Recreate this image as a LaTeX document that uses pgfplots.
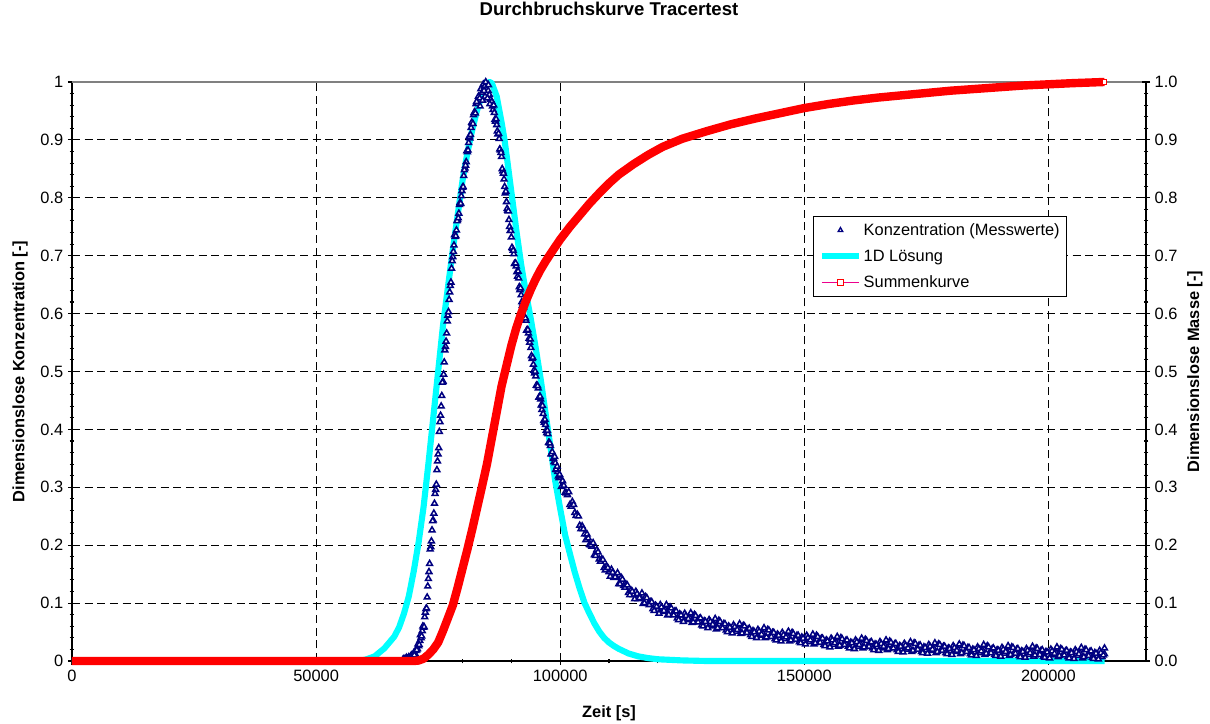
\documentclass[border=0pt]{standalone}
\usepackage{fontspec}
\setmainfont{Liberation Sans}
\usepackage{pgfplots}
\pgfplotsset{compat=1.18}

\definecolor{messblau}{RGB}{0,0,128}
\definecolor{loesung}{RGB}{0,255,255}
\definecolor{summe}{RGB}{255,0,0}

\newcommand{\tickfont}{\fontsize{12.3}{14}\selectfont}
\newcommand{\labelfont}{\bfseries\fontsize{12.3}{14}\selectfont}

\pgfplotsset{
  tracer/.style={
    at={(0,0)}, anchor=south west,
    scale only axis, width=805.5pt, height=434.25pt,
    xmin=0, xmax=220000, ymin=0, ymax=1,
    clip=false,
    tick align=center, major tick length=6pt, minor tick length=3.5pt,
    tick style={black, line width=0.8pt},
    axis line style={black, line width=1pt, -},
    ytick={0,0.1,0.2,0.3,0.4,0.5,0.6,0.7,0.8,0.9,1},
    minor y tick num=4,
    tick label style={font=\tickfont},
    /pgf/number format/assume math mode=true,
    legend image code/.code={\draw[mark repeat=2,mark phase=2,##1] plot coordinates {(0cm,0cm) (0.49cm,0cm) (0.98cm,0cm)};},
  },
  messung/.style={only marks, mark=triangle*, mark size=2.5pt,
    mark options={draw=messblau, fill=white, line width=1.15pt}},
}

\begin{document}
\begin{tikzpicture}

% left axis: measured concentration and 1D solution
\begin{axis}[
  tracer,
  axis x line*=bottom, axis y line*=left,
  xtick={0,50000,100000,150000,200000},
  minor x tick num=4,
  scaled x ticks=false,
  /pgf/number format/.cd, fixed, 1000 sep={}, /pgfplots/.cd,
  grid=major,
  major grid style={black, line width=0.6pt, dash pattern=on 6pt off 3.5pt},
  title={Durchbruchskurve Tracertest},
  title style={at={(axis description cs:0.5,1.1123)}, anchor=center, font=\bfseries\fontsize{13.9}{16}\selectfont},
  xlabel={Zeit [s]},
  xlabel style={at={(axis description cs:0.5,-0.0898)}, anchor=center, font=\labelfont},
  ylabel={Dimensionslose Konzentration [-]},
  ylabel style={at={(axis description cs:-0.0484,0.5)}, anchor=center, font=\labelfont},
]
\draw[gray, line width=1pt] (rel axis cs:0,1) -- (rel axis cs:1,1);

% 1D solution
\addplot[loesung, line width=4.6pt, line join=round] coordinates {
(0,0) (58000,0) (60000,0.002) (62000,0.008) (64000,0.022) (65000,0.032)
(66000,0.042) (67000,0.058) (68000,0.082) (69000,0.112) (70000,0.155)
(71000,0.205) (72000,0.265) (73000,0.34) (74000,0.42) (75000,0.50)
(76000,0.58) (77000,0.645) (78000,0.71) (79000,0.77) (80000,0.83)
(81000,0.878) (82000,0.918) (83000,0.952) (84000,0.978) (85000,0.995)
(85500,1.0) (86000,0.998) (87000,0.975) (88000,0.93) (88600,0.9)
(89000,0.875) (90000,0.81) (91000,0.745) (92000,0.685) (93000,0.635)
(94000,0.59) (95000,0.54) (96000,0.487) (97000,0.428) (98000,0.37)
(99000,0.31) (100000,0.263) (101000,0.218) (102000,0.185) (103000,0.153)
(104000,0.125) (105000,0.10) (106000,0.082) (107000,0.065) (108000,0.051)
(109000,0.040) (110000,0.032) (111000,0.026) (112000,0.021) (114000,0.013)
(116000,0.008) (118000,0.005) (120000,0.003) (125000,0.001) (130000,0)
(211500,0)
};

% measured concentration, first sampling
\addplot[messung] coordinates {
(67750,0.002) (68000,0.004) (68250,0.003) (68500,0.006) (68750,0.004)
(69000,0.007) (69250,0.005) (69500,0.010) (69750,0.008) (70000,0.014)
(70250,0.013) (70500,0.019) (70750,0.021) (71000,0.026) (71250,0.035)
(71500,0.040) (71750,0.052) (72000,0.058) (72250,0.076) (72500,0.090)
(72750,0.110) (73000,0.142) (73250,0.168) (73500,0.197) (73750,0.226)
(74000,0.243) (74250,0.272) (74500,0.296) (74750,0.330) (75000,0.357)
(75250,0.396) (75500,0.424) (75750,0.458) (76000,0.483) (76250,0.516)
(76500,0.543) (76750,0.566) (77000,0.597) (77250,0.624) (77500,0.648)
(77750,0.678) (78000,0.698) (78250,0.718) (78500,0.733) (78750,0.744)
(79000,0.762) (79250,0.773) (79500,0.792) (79750,0.803) (80000,0.818)
(80250,0.838) (80500,0.851) (80750,0.862) (81000,0.879) (81250,0.895)
(81500,0.903) (81750,0.921) (82000,0.928) (82250,0.943) (82500,0.948)
(82750,0.962) (83000,0.963) (83250,0.975) (83500,0.972) (83750,0.988)
(84000,0.982) (84250,0.996) (84500,0.992) (84750,1.000) (85000,0.987)
(85250,0.985) (85500,0.978) (85750,0.970) (86000,0.966) (86250,0.952)
(86500,0.947) (86750,0.932) (87000,0.926) (87250,0.910) (87500,0.902)
(87750,0.882) (88000,0.871) (88250,0.846) (88500,0.832) (88750,0.808)
(89000,0.793) (89250,0.778) (89500,0.762) (89750,0.743) (90000,0.732)
(90250,0.712) (90500,0.703) (90750,0.686) (91000,0.682) (91250,0.664)
(91500,0.661) (91750,0.641) (92000,0.632) (92250,0.614) (92500,0.611)
(92750,0.594) (93000,0.588) (93250,0.571) (93500,0.566) (93750,0.550)
(94000,0.541) (94250,0.522) (94500,0.512) (94750,0.497) (95000,0.492)
(95250,0.476) (95500,0.471) (95750,0.456) (96000,0.452) (96250,0.434)
(96500,0.427) (96750,0.412) (97000,0.408) (97250,0.394) (97500,0.392)
(97750,0.377) (98000,0.372) (98250,0.359) (98500,0.357) (98750,0.344)
(99000,0.342) (99250,0.330) (99500,0.327) (99750,0.316) (100000,0.317)
(83600,0.958) (84100,0.968) (84600,0.975) (85100,0.972) (85600,0.962)
(84400,0.985) (85300,0.995)
(100500,0.311) (101000,0.291) (101500,0.287) (102000,0.270) (102500,0.275)
(103000,0.256) (103500,0.253) (104000,0.234) (104500,0.233) (105000,0.219)
(105500,0.219) (106000,0.201) (106500,0.198) (107000,0.183) (107500,0.192)
(108000,0.176) (108500,0.176) (109000,0.161) (109500,0.164) (110000,0.154)
(110500,0.158) (111000,0.144) (111500,0.145) (112000,0.133) (112500,0.144)
(113000,0.130) (113500,0.132) (114000,0.118) (114500,0.122) (115000,0.114)
(115500,0.120) (116000,0.107) (116500,0.109) (117000,0.099) (117500,0.111)
(118000,0.099) (118500,0.102) (119000,0.090) (119500,0.096) (120000,0.089)
(120500,0.097) (121000,0.085) (121500,0.089) (122000,0.079) (122500,0.093)
(123000,0.081) (123500,0.086) (124000,0.074) (124500,0.081) (125000,0.074)
(125500,0.082) (126000,0.071) (126500,0.075) (127000,0.066) (127500,0.080)
(128000,0.068) (128500,0.073) (129000,0.062) (129500,0.069) (130000,0.063)
(130500,0.071) (131000,0.060) (131500,0.064) (132000,0.055) (132500,0.070)
(133000,0.059) (133500,0.064) (134000,0.053) (134500,0.060) (135000,0.054)
(135500,0.062) (136000,0.051) (136500,0.056) (137000,0.047) (137500,0.061)
(138000,0.050) (138500,0.055) (139000,0.045) (139500,0.052) (140000,0.046)
(140500,0.054) (141000,0.044) (141500,0.048) (142000,0.040) (142500,0.054)
(143000,0.043) (143500,0.049) (144000,0.038) (144500,0.046) (145000,0.040)
(145500,0.049) (146000,0.038) (146500,0.043) (147000,0.034) (147500,0.049)
(148000,0.038) (148500,0.044) (149000,0.033) (149500,0.041) (150000,0.035)
(150500,0.044) (151000,0.033) (151500,0.038) (152000,0.029) (152500,0.044)
(153000,0.033) (153500,0.039) (154000,0.028) (154500,0.036) (155000,0.030)
(155500,0.039) (156000,0.028) (156500,0.033) (157000,0.025) (157500,0.040)
(158000,0.029) (158500,0.035) (159000,0.025) (159500,0.032) (160000,0.027)
(160500,0.036) (161000,0.025) (161500,0.030) (162000,0.022) (162500,0.037)
(163000,0.026) (163500,0.032) (164000,0.022) (164500,0.029) (165000,0.024)
(165500,0.033) (166000,0.022) (166500,0.027) (167000,0.019) (167500,0.034)
(168000,0.023) (168500,0.029) (169000,0.019) (169500,0.026) (170000,0.021)
(170500,0.030) (171000,0.020) (171500,0.024) (172000,0.016) (172500,0.031)
(173000,0.021) (173500,0.027) (174000,0.016) (174500,0.024) (175000,0.019)
(175500,0.028) (176000,0.018) (176500,0.022) (177000,0.014) (177500,0.029)
(178000,0.019) (178500,0.025) (179000,0.014) (179500,0.022) (180000,0.017)
(180500,0.026) (181000,0.016) (181500,0.020) (182000,0.012) (182500,0.027)
(183000,0.017) (183500,0.023) (184000,0.012) (184500,0.020) (185000,0.015)
(185500,0.024) (186000,0.014) (186500,0.019) (187000,0.011) (187500,0.026)
(188000,0.015) (188500,0.021) (189000,0.011) (189500,0.019) (190000,0.014)
(190500,0.023) (191000,0.013) (191500,0.017) (192000,0.009) (192500,0.024)
(193000,0.014) (193500,0.020) (194000,0.009) (194500,0.017) (195000,0.012)
(195500,0.021) (196000,0.011) (196500,0.016) (197000,0.008) (197500,0.022)
(198000,0.012) (198500,0.018) (199000,0.008) (199500,0.016) (200000,0.011)
(200500,0.020) (201000,0.010) (201500,0.015) (202000,0.007) (202500,0.021)
(203000,0.011) (203500,0.017) (204000,0.007) (204500,0.015) (205000,0.010)
(205500,0.019) (206000,0.009) (206500,0.014) (207000,0.005) (207500,0.020)
(208000,0.010) (208500,0.016) (209000,0.006) (209500,0.014) (210000,0.009)
(210500,0.018) (211000,0.007) (211500,0.012) (211500,0.022)
};

% measured concentration, intermediate samples
\addplot[messung] coordinates {
(70125,0.010) (70375,0.018) (70625,0.019) (70875,0.029) (71125,0.028)
(71375,0.045) (71625,0.043) (71875,0.060) (72125,0.059) (72375,0.084)
(72625,0.091) (72875,0.129) (73125,0.154) (73375,0.193) (73625,0.207)
(73875,0.242) (74125,0.255) (74375,0.289) (74625,0.305) (74875,0.345)
(75125,0.368) (75375,0.413) (75625,0.440) (75875,0.481) (76125,0.495)
(76375,0.537) (76625,0.552) (76875,0.587) (77125,0.603) (77375,0.637)
(77625,0.654) (77875,0.691) (78125,0.707) (78375,0.736) (78625,0.734)
(78875,0.760) (79125,0.765) (79375,0.788) (79625,0.790) (79875,0.812)
(80125,0.819) (80375,0.848) (80625,0.856) (80875,0.881) (81125,0.882)
(81375,0.906) (81625,0.909) (81875,0.930) (82125,0.928) (82375,0.947)
(82625,0.946) (82875,0.966)
(86125,0.958) (86375,0.960) (86625,0.935) (86875,0.936) (87125,0.915)
(87375,0.911) (87625,0.884) (87875,0.878) (88125,0.850) (88375,0.842)
(88625,0.819) (88875,0.811) (89125,0.781) (89375,0.777) (89625,0.750)
(89875,0.743) (90125,0.714) (90375,0.709) (90625,0.686) (90875,0.687)
(91125,0.672) (91375,0.673) (91625,0.646) (91875,0.644) (92125,0.620)
(92375,0.618) (92625,0.595) (92875,0.592) (93125,0.571) (93375,0.572)
(93625,0.557) (93875,0.556) (94125,0.527) (94375,0.524) (94625,0.502)
(94875,0.500) (95125,0.476) (95375,0.475) (95625,0.455) (95875,0.457)
(96125,0.442) (96375,0.441) (96625,0.415) (96875,0.417) (97125,0.398)
(97375,0.398) (97625,0.377) (97875,0.376) (98125,0.357) (98375,0.361)
(98625,0.350) (98875,0.353) (99125,0.331) (99375,0.336) (99625,0.319)
(99875,0.322)
(100250,0.301) (100750,0.303) (101250,0.290) (101750,0.292) (102250,0.267)
(102750,0.270) (103250,0.251) (103750,0.250) (104250,0.228) (104750,0.228)
(105250,0.209) (105750,0.212) (106250,0.200) (106750,0.204) (107250,0.182)
(107750,0.188) (108250,0.172) (108750,0.175) (109250,0.157) (109750,0.161)
(110250,0.146) (110750,0.153) (111250,0.145) (111750,0.152) (112250,0.133)
(112750,0.141) (113250,0.127) (113750,0.131) (114250,0.114) (114750,0.120)
(115250,0.107) (115750,0.116) (116250,0.109) (116750,0.117) (117250,0.100)
(117750,0.109) (118250,0.097) (118750,0.102) (119250,0.087) (119750,0.094)
(120250,0.082) (120750,0.093) (121250,0.087) (121750,0.097) (122250,0.080)
(122750,0.091) (123250,0.079) (123750,0.086) (124250,0.071) (124750,0.079)
(125250,0.068) (125750,0.078) (126250,0.073) (126750,0.083) (127250,0.067)
(127750,0.078) (128250,0.067) (128750,0.074) (129250,0.060) (129750,0.068)
(130250,0.057) (130750,0.068) (131250,0.063) (131750,0.073) (132250,0.057)
(132750,0.068) (133250,0.057) (133750,0.064) (134250,0.050) (134750,0.058)
(135250,0.048) (135750,0.059) (136250,0.054) (136750,0.064) (137250,0.048)
(137750,0.060) (138250,0.049) (138750,0.056) (139250,0.042) (139750,0.050)
(140250,0.040) (140750,0.051) (141250,0.046) (141750,0.057) (142250,0.041)
(142750,0.053) (143250,0.042) (143750,0.049) (144250,0.036) (144750,0.044)
(145250,0.034) (145750,0.045) (146250,0.041) (146750,0.051) (147250,0.036)
(147750,0.047) (148250,0.037) (148750,0.044) (149250,0.031) (149750,0.039)
(150250,0.029) (150750,0.040) (151250,0.036) (151750,0.046) (152250,0.031)
(152750,0.042) (153250,0.032) (153750,0.039) (154250,0.026) (154750,0.034)
(155250,0.024) (155750,0.036) (156250,0.031) (156750,0.042) (157250,0.027)
(157750,0.038) (158250,0.028) (158750,0.036) (159250,0.022) (159750,0.031)
(160250,0.021) (160750,0.033) (161250,0.028) (161750,0.039) (162250,0.024)
(162750,0.035) (163250,0.025) (163750,0.033) (164250,0.019) (164750,0.028)
(165250,0.018) (165750,0.030) (166250,0.025) (166750,0.036) (167250,0.021)
(167750,0.032) (168250,0.022) (168750,0.030) (169250,0.016) (169750,0.025)
(170250,0.015) (170750,0.027) (171250,0.022) (171750,0.033) (172250,0.018)
(172750,0.030) (173250,0.020) (173750,0.027) (174250,0.014) (174750,0.023)
(175250,0.013) (175750,0.025) (176250,0.020) (176750,0.031) (177250,0.016)
(177750,0.028) (178250,0.018) (178750,0.025) (179250,0.012) (179750,0.021)
(180250,0.011) (180750,0.023) (181250,0.018) (181750,0.029) (182250,0.014)
(182750,0.026) (183250,0.016) (183750,0.023) (184250,0.010) (184750,0.019)
(185250,0.009) (185750,0.021) (186250,0.017) (186750,0.028) (187250,0.013)
(187750,0.024) (188250,0.014) (188750,0.022) (189250,0.009) (189750,0.018)
(190250,0.008) (190750,0.020) (191250,0.016) (191750,0.026) (192250,0.011)
(192750,0.023) (193250,0.013) (193750,0.021) (194250,0.007) (194750,0.016)
(195250,0.006) (195750,0.018) (196250,0.014) (196750,0.025) (197250,0.010)
(197750,0.021) (198250,0.011) (198750,0.019) (199250,0.006) (199750,0.015)
(200250,0.005) (200750,0.017) (201250,0.013) (201750,0.024) (202250,0.009)
(202750,0.020) (203250,0.010) (203750,0.018) (204250,0.005) (204750,0.014)
(205250,0.004) (205750,0.016) (206250,0.012) (206750,0.023) (207250,0.007)
(207750,0.019) (208250,0.009) (208750,0.017) (209250,0.004) (209750,0.013)
(210250,0.003) (210750,0.014) (211250,0.010)
};
\end{axis}

% right axis: cumulative mass
\begin{axis}[
  tracer,
  axis x line=none, axis y line*=right,
  /pgf/number format/.cd, fixed, fixed zerofill, precision=1, /pgfplots/.cd,
  ylabel={Dimensionslose Masse [-]},
  ylabel style={at={(axis description cs:1.0456,0.5)}, anchor=center, font=\labelfont},
  legend style={at={(axis description cs:0.690,0.7686)}, anchor=north west,
    draw=black, line width=0.6pt, font=\tickfont, fill=white,
    inner xsep=4pt, inner ysep=4pt, row sep=7pt,
    nodes={inner sep=1.2pt}},
  legend cell align=left,
]
\addlegendimage{only marks, mark=triangle*, mark size=2pt, mark options={draw=messblau, fill=white, line width=1pt}}
\addlegendentry{Konzentration (Messwerte)}
\addlegendimage{loesung, line width=4.6pt}
\addlegendentry{1D Lösung}
\addlegendimage{magenta, line width=0.8pt, mark=square*, mark size=2pt, mark options={draw=summe, fill=white, line width=0.8pt}}
\addlegendentry{Summenkurve}

\addplot[summe, line width=6.3pt, line join=round, forget plot] coordinates {
(0,0) (70000,0) (71000,0.0008) (72000,0.004) (73000,0.011) (74000,0.02)
(75000,0.032) (76000,0.052) (77000,0.074) (78000,0.096) (79000,0.127)
(80000,0.16) (81000,0.193) (82000,0.228) (83000,0.265) (84000,0.302)
(85000,0.34) (86000,0.385) (87000,0.43) (88000,0.475) (89000,0.51)
(90000,0.545) (91000,0.575) (92000,0.6) (93000,0.622) (94000,0.642)
(95000,0.66) (96000,0.676) (97000,0.69) (98000,0.703) (100000,0.728)
(102000,0.75) (104000,0.77) (106000,0.79) (108000,0.808) (110000,0.825)
(112000,0.84) (115000,0.858) (118000,0.874) (121000,0.888) (125000,0.902)
(130000,0.915) (135000,0.927) (140000,0.937) (145000,0.946) (150000,0.955)
(155000,0.962) (160000,0.968) (165000,0.973) (170000,0.977) (175000,0.981)
(180000,0.985) (185000,0.988) (190000,0.991) (195000,0.994) (200000,0.996)
(205000,0.998) (211500,1.0)
};
\addplot[only marks, mark=square*, mark size=1.6pt,
  mark options={draw=summe, fill=white, line width=0.7pt}, forget plot]
  coordinates {(211500,1.0)};
\end{axis}

\pgfresetboundingbox
\path[use as bounding box] (-54pt,-47.25pt) rectangle (853.5pt,495.75pt);
\end{tikzpicture}
\end{document}
